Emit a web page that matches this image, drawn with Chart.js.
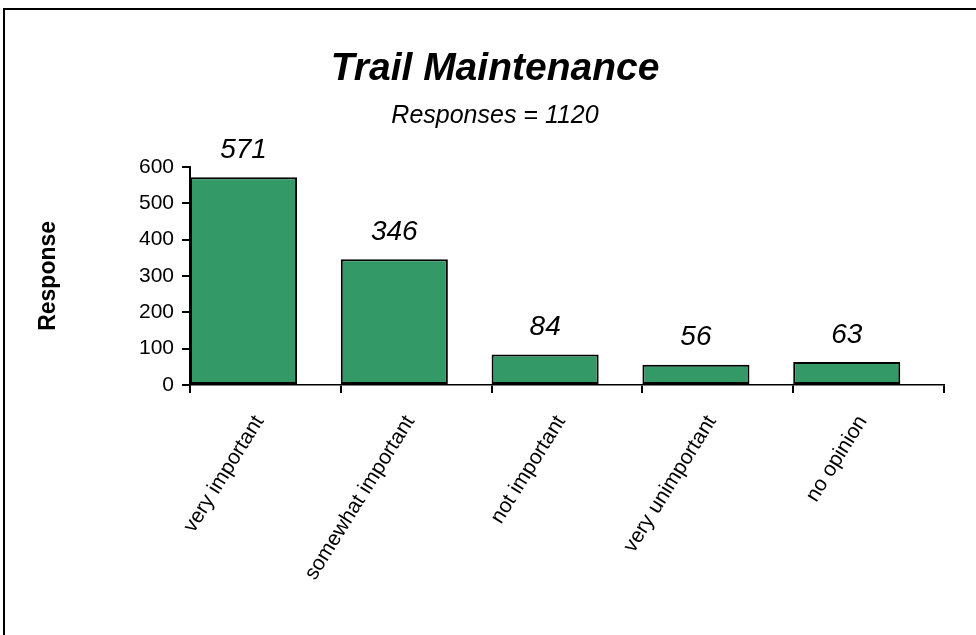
<!DOCTYPE html>
<html>
<head>
<meta charset="utf-8">
<script src="https://cdn.jsdelivr.net/npm/chart.js@4.4.1/dist/chart.umd.min.js"></script>
<style>
    html, body { margin: 0; padding: 0; background: #fff; overflow: hidden; }
    #page { position: relative; width: 976px; height: 635px; overflow: hidden; }
    canvas { position: absolute; left: 0; top: 0; }
    #frame {
        position: absolute; left: 3px; top: 8px; width: 1100px; height: 800px;
        border: 2px solid #000; box-sizing: border-box; pointer-events: none;
    }
</style>
</head>
<body>
<div id="page">
    <canvas id="chart" width="976" height="635"></canvas>
    <div id="frame"></div>
</div>
<script>
// Datos
const categories = ['very important', 'somewhat important', 'not important', 'very unimportant', 'no opinion'];
const responses = [571, 346, 84, 56, 63];
const yTicks = [0, 100, 200, 300, 400, 500, 600];

const chartTitle = 'Trail Maintenance';
const chartSubtitle = 'Responses = 1120';
const yTitle = 'Response';

// Las barras van pegadas a la marca izquierda de cada categoría
const BAR_FRACTION = 0.71;

const FONT = "'Liberation Sans', Arial, sans-serif";

// Etiquetas de valor encima de cada barra
const valueLabels = {
    id: 'valueLabels',
    afterDatasetsDraw(chart) {
        const ctx = chart.ctx;
        const meta = chart.getDatasetMeta(0);
        ctx.save();
        ctx.font = `italic 28px ${FONT}`;
        ctx.fillStyle = '#000';
        ctx.textAlign = 'center';
        ctx.textBaseline = 'middle';
        meta.data.forEach((bar, i) => {
            ctx.fillText(String(responses[i]), bar.x, bar.y - 27);
        });
        ctx.restore();
    }
};

const canvas = document.getElementById('chart');

new Chart(canvas, {
    type: 'bar',
    data: {
        labels: categories,
        datasets: [{
            label: 'Response',
            xAxisID: 'x2',
            data: responses.map((v, i) => ({ x: i + BAR_FRACTION / 2, y: v })),
            backgroundColor: '#339966',
            borderColor: '#000',
            borderWidth: 2,
            borderSkipped: false,
            barPercentage: BAR_FRACTION,
            categoryPercentage: 1
        }]
    },
    options: {
        responsive: false,
        animation: false,
        layout: {
            padding: { left: 14, right: 0, top: 0, bottom: 0 }
        },
        plugins: {
            legend: { display: false },
            tooltip: { enabled: false },
            title: {
                display: true,
                text: chartTitle,
                color: '#000',
                font: { family: FONT, size: 39, weight: 'bold', style: 'italic' },
                padding: { top: 46, bottom: 8 }
            },
            subtitle: {
                display: true,
                text: chartSubtitle,
                color: '#000',
                font: { family: FONT, size: 25, style: 'italic' },
                padding: { top: 0, bottom: 36 }
            }
        },
        scales: {
            x: {
                type: 'category',
                labels: categories,
                offset: true,
                grid: {
                    offset: true,
                    drawOnChartArea: false,
                    drawTicks: true,
                    tickLength: 8,
                    color: '#000',
                    lineWidth: 2
                },
                border: { color: '#000', width: 1.5 },
                ticks: {
                    color: '#000',
                    font: { family: FONT, size: 21 },
                    minRotation: 58,
                    maxRotation: 58,
                    autoSkip: false,
                    labelOffset: -6,
                    padding: 18
                },
                afterFit(scale) { scale.height = 250; }
            },
            x2: {
                type: 'linear',
                display: false,
                min: 0,
                max: categories.length,
                offset: false,
                ticks: { stepSize: 1 }
            },
            y: {
                min: yTicks[0],
                max: yTicks[yTicks.length - 1],
                afterBuildTicks(scale) {
                    scale.ticks = yTicks.map(v => ({ value: v }));
                },
                grid: {
                    drawOnChartArea: false,
                    drawTicks: true,
                    tickLength: 8,
                    color: '#000',
                    lineWidth: 2
                },
                border: { color: '#000', width: 2 },
                ticks: {
                    color: '#000',
                    font: { family: FONT, size: 21 },
                    padding: 8
                },
                title: {
                    display: true,
                    text: yTitle,
                    color: '#000',
                    font: { family: FONT, size: 23, weight: 'bold' },
                    padding: { top: 21, bottom: 0 }
                },
                afterFit(scale) { scale.width = 176; }
            },
            // eje vacío a la derecha, solo reserva el margen
            yRight: {
                position: 'right',
                display: true,
                grid: { display: false },
                border: { display: false },
                ticks: { display: false },
                afterFit(scale) { scale.width = 32; }
            }
        }
    },
    plugins: [valueLabels]
});
</script>
</body>
</html>
